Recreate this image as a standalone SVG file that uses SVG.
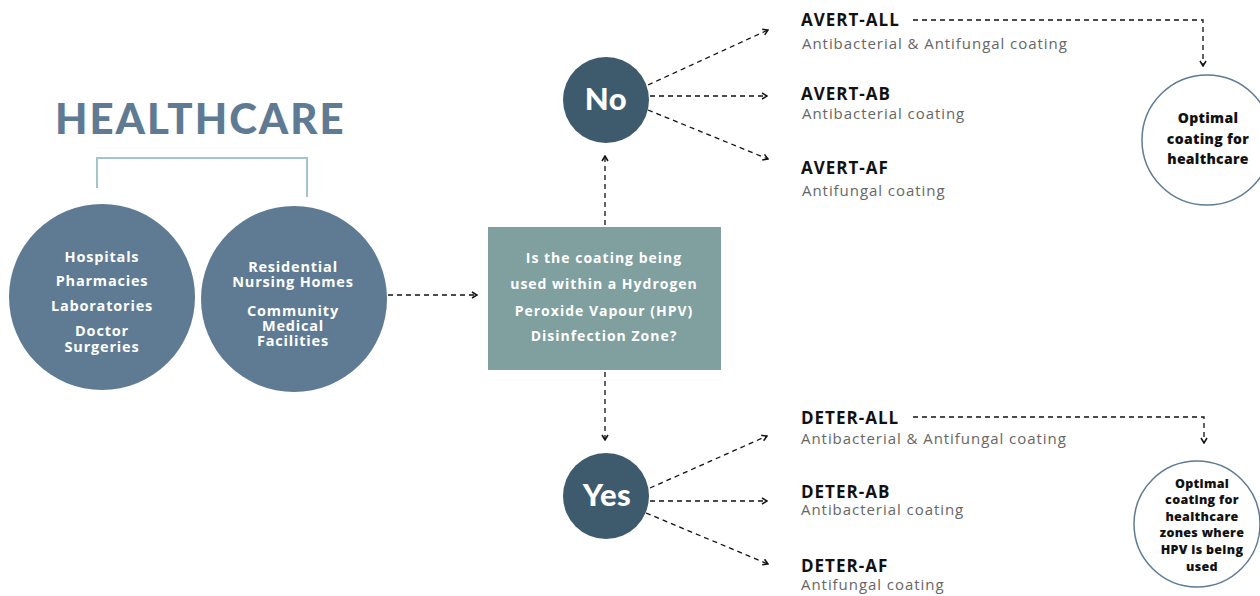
<svg xmlns="http://www.w3.org/2000/svg" width="1260" height="596" viewBox="0 0 1260 596">
<defs>
<marker id="ah" viewBox="0 0 8 8" refX="7" refY="4" markerWidth="8" markerHeight="8" markerUnits="userSpaceOnUse" orient="auto">
<path d="M2,1 L7,4 L2,7" fill="none" stroke="#111" stroke-width="1.5"/>
</marker>
<style>
.dash{fill:none;stroke:#111;stroke-width:1.3;stroke-dasharray:5 4}
.title{font-family:Lato,"Open Sans",sans-serif;font-weight:900;font-size:42px;fill:#5e7b93;letter-spacing:2px}
.wt{font-family:"Open Sans",Lato,sans-serif;font-weight:700;fill:#fff;text-anchor:middle}
.ct{font-size:14.5px;letter-spacing:0.8px}
.bt{font-size:14px;letter-spacing:1px}
.big{font-family:Lato,"Open Sans",sans-serif;font-size:31px;font-weight:900;letter-spacing:0.5px}
.lab{font-family:"Open Sans",Lato,sans-serif;font-weight:700;font-size:17px;fill:#111;letter-spacing:1px}
.sub{font-family:"Open Sans",Lato,sans-serif;font-weight:400;font-size:15px;fill:#666;letter-spacing:0.95px}
.opt{font-family:"Open Sans",Lato,sans-serif;font-weight:800;fill:#111;text-anchor:middle;letter-spacing:0.3px}
</style>
</defs>
<rect width="1260" height="596" fill="#fff"/>

<g id="title">
<text class="title" x="55" y="134">HEALTHCARE</text>
<path d="M97,188 V158 H307 V197" fill="none" stroke="#a3c4c8" stroke-width="2"/>
</g>

<g id="node-hospitals">
<circle cx="102" cy="297" r="93" fill="#5e7b93"/>
<text class="wt ct"><tspan x="102" y="262">Hospitals</tspan><tspan x="102" y="286">Pharmacies</tspan><tspan x="102" y="311">Laboratories</tspan><tspan x="102" y="336">Doctor</tspan><tspan x="102" y="352">Surgeries</tspan></text>
</g>

<g id="node-residential">
<circle cx="294" cy="299" r="93" fill="#5e7b93"/>
<text class="wt ct"><tspan x="293" y="272">Residential</tspan><tspan x="293" y="287">Nursing Homes</tspan><tspan x="293" y="316">Community</tspan><tspan x="293" y="331">Medical</tspan><tspan x="293" y="346">Facilities</tspan></text>
</g>

<g id="node-question">
<rect x="488" y="227" width="233" height="143" fill="#7fa09f"/>
<text class="wt bt"><tspan x="604" y="263">Is the coating being</tspan><tspan x="604" y="289">used within a Hydrogen</tspan><tspan x="604" y="316">Peroxide Vapour (HPV)</tspan><tspan x="604" y="341">Disinfection Zone?</tspan></text>
</g>

<g id="node-no">
<circle cx="606" cy="100" r="43" fill="#3e5b6e"/>
<text class="wt big" x="606" y="110">No</text>
</g>

<g id="node-yes">
<circle cx="606" cy="496" r="43" fill="#3e5b6e"/>
<text class="wt big" x="607" y="506">Yes</text>
</g>

<g id="node-avert">
<text class="lab" x="801" y="26">AVERT-ALL</text>
<text class="sub" x="802" y="49">Antibacterial &amp; Antifungal coating</text>
<text class="lab" x="801" y="100">AVERT-AB</text>
<text class="sub" x="802" y="119">Antibacterial coating</text>
<text class="lab" x="801" y="174">AVERT-AF</text>
<text class="sub" x="802" y="196">Antifungal coating</text>
</g>

<g id="node-deter">
<text class="lab" x="801" y="424">DETER-ALL</text>
<text class="sub" x="801" y="444">Antibacterial &amp; Antifungal coating</text>
<text class="lab" x="801" y="498">DETER-AB</text>
<text class="sub" x="801" y="515">Antibacterial coating</text>
<text class="lab" x="801" y="572">DETER-AF</text>
<text class="sub" x="801" y="590">Antifungal coating</text>
</g>

<g id="node-optimal-1">
<circle cx="1207" cy="140" r="65" fill="#fff" stroke="#5e7b93" stroke-width="1.5"/>
<text class="opt" font-size="14"><tspan x="1208" y="123">Optimal</tspan><tspan x="1208" y="144">coating for</tspan><tspan x="1208" y="164">healthcare</tspan></text>
</g>

<g id="node-optimal-2">
<circle cx="1197" cy="524" r="63" fill="#fff" stroke="#5e7b93" stroke-width="1.5"/>
<text class="opt" font-size="12.5"><tspan x="1202" y="488">Optimal</tspan><tspan x="1202" y="504">coating for</tspan><tspan x="1202" y="521">healthcare</tspan><tspan x="1202" y="537">zones where</tspan><tspan x="1202" y="554">HPV is being</tspan><tspan x="1202" y="571">used</tspan></text>
</g>

<g id="connectors">
<path class="dash" d="M388,295 H477" marker-end="url(#ah)"/>
<path class="dash" d="M605,225 V156" marker-end="url(#ah)"/>
<path class="dash" d="M605,372 V440" marker-end="url(#ah)"/>
<path class="dash" d="M648,85 L768,30" marker-end="url(#ah)"/>
<path class="dash" d="M650,96 H767" marker-end="url(#ah)"/>
<path class="dash" d="M648,110 L768,159" marker-end="url(#ah)"/>
<path class="dash" d="M650,488 L767,436" marker-end="url(#ah)"/>
<path class="dash" d="M650,501 H767" marker-end="url(#ah)"/>
<path class="dash" d="M646,513 L768,564" marker-end="url(#ah)"/>
<path class="dash" d="M913,20 H1203 V66" marker-end="url(#ah)"/>
<path class="dash" d="M913,417 H1204 V443" marker-end="url(#ah)"/>
</g>
</svg>
